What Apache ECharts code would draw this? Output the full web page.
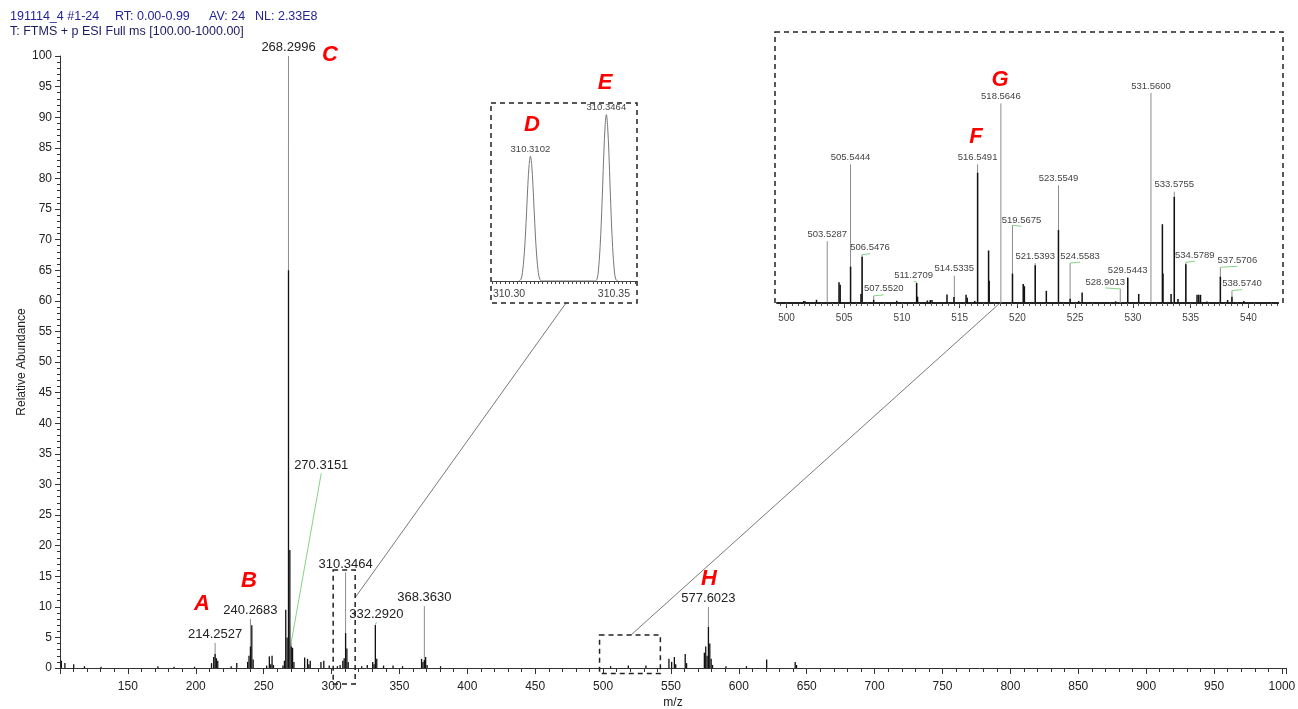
<!DOCTYPE html>
<html>
<head>
<meta charset="utf-8">
<title>191114_4 mass spectrum</title>
<script src="https://cdn.jsdelivr.net/npm/echarts@6/dist/echarts.min.js"></script>
<style>
  html, body { margin: 0; padding: 0; background: #fff; }
  #chart { width: 1298px; height: 709px; }
</style>
</head>
<body>
<div id="chart"></div>
<script>
// ---- Full-scan spectrum (profile clusters, black sticks) ----
const mainMz = [
  101.0, 103.6, 110.1, 118.0, 130.2, 172.1, 184.0, 199.1, 211.6, 213.2,
  214.25, 215.2, 216.2, 226.1, 230.2, 238.2, 239.2, 240.27, 241.27, 242.27,
  252.2, 254.2, 255.2, 256.2, 257.2, 264.2, 265.3, 266.27, 267.28, 268.30,
  269.30, 270.32, 271.3, 272.3, 280.2, 282.3, 283.3, 284.3, 292.2, 294.3,
  298.3, 304.3, 306.3, 308.3, 309.3, 310.35, 311.3, 312.3, 322.2, 326.3,
  330.3, 331.3, 332.29, 333.3, 338.3, 345.3, 352.3, 366.3, 367.3, 368.36,
  369.3, 370.4, 380.3, 505.54, 518.56, 531.56, 548.5, 550.5, 552.5, 553.5,
  560.5, 561.5, 574.6, 575.6, 576.6, 577.60, 578.6, 579.6, 580.6, 590.5,
  605.6, 620.5, 641.5, 642.5
];
const mainAbund = [
  1.2, 0.8, 0.6, 0.3, 0.2, 0.3, 0.2, 0.2, 0.8, 1.8,
  2.3, 1.6, 1.2, 0.3, 0.8, 1.0, 2.0, 3.5, 7.0, 1.4,
  0.4, 1.9, 0.6, 2.0, 0.5, 0.4, 1.2, 9.5, 5.0, 65,
  19.3, 3.5, 3.3, 1.0, 1.7, 1.5, 0.6, 1.2, 1.0, 1.2,
  0.4, 0.3, 0.5, 1.2, 1.6, 5.7, 3.2, 1.0, 0.3, 0.5,
  1.0, 0.6, 7.0, 1.5, 0.4, 0.4, 0.3, 1.5, 1.0, 1.3,
  1.8, 0.5, 0.3, 0.3, 0.4, 0.4, 1.5, 1.0, 1.8, 0.6,
  2.3, 0.8, 2.5, 3.5, 2.0, 6.7, 4.0, 1.5, 0.5, 0.3,
  0.3, 1.4, 1.0, 0.5
];

// ---- Labelled centroid peaks of the full scan ----
const labelMz    = [214.2527, 240.2683, 268.2996, 270.3151, 310.3464, 332.2920, 368.3630, 577.6023];
const labelAbund = [4.1, 8.0, 100, 4.2, 15.6, 7.0, 10.1, 10.0];

// ---- Zoom 310.29-310.36: two resolved profile peaks ----
const deMz = [
  310.3047, 310.3057, 310.3064, 310.3072, 310.3078, 310.3084, 310.3090, 310.3096, 310.3102,
  310.3108, 310.3114, 310.3120, 310.3126, 310.3132, 310.3140, 310.3147, 310.3157,
  310.3409, 310.3419, 310.3426, 310.3434, 310.3440, 310.3446, 310.3452, 310.3458, 310.3464,
  310.3470, 310.3476, 310.3482, 310.3488, 310.3494, 310.3502, 310.3509, 310.3519
];
const deAbund = [
  0, 1, 5, 15, 27, 42, 58, 70, 75,
  70, 58, 42, 27, 15, 5, 1, 0,
  0, 1, 6, 20, 36, 56, 77, 93, 100,
  93, 77, 56, 36, 20, 6, 1, 0
];
const deLabelMz    = [310.3102, 310.3464];
const deLabelAbund = [75, 100];
const deTickLabels = [310.30, 310.35];

// ---- Zoom 500-542: labelled centroids (grey) and profile sticks (black) ----
const zoomLabelMz = [
  503.5287, 505.5444, 506.5476, 507.5520, 511.2709, 514.5335, 516.5491, 518.5646, 519.5675, 521.5393,
  523.5549, 524.5583, 528.9013, 529.5443, 531.5600, 533.5755, 534.5789, 537.5706, 538.5740
];
const zoomLabelAbund = [
  29.4, 66, 23, 3.4, 9.9, 13, 66, 95, 37, 19,
  56, 19, 6.7, 12.3, 100, 53, 19.4, 17, 5.9
];
const zoomMz = [
  501.5, 501.6, 502.6, 504.55, 504.65, 505.55, 506.45, 506.55, 507.55, 509.55,
  511.27, 511.35, 512.2, 512.45, 512.6, 513.9, 514.5, 515.55, 515.65, 516.3,
  516.55, 517.5, 517.55, 519.57, 520.5, 520.6, 521.54, 522.5, 523.55, 524.56,
  525.3, 525.6, 526.9, 527.6, 528.5, 529.55, 530.5, 531.3, 532.55, 532.6,
  533.3, 533.58, 533.9, 534.58, 535.55, 535.7, 535.85, 536.4, 537.57, 538.2,
  538.57, 539.6
];
const zoomAbund = [
  1.0, 0.8, 1.5, 9.9, 8.7, 17.3, 4.3, 22, 1.5, 1.1,
  9.5, 3, 1.2, 1.4, 1.4, 4.1, 2.9, 3.9, 2.5, 1.0,
  62, 25, 10.6, 14, 9, 8, 18, 5.8, 34.7, 2,
  1, 5, 0.5, 0.5, 0.8, 12, 4.3, 0.5, 37.5, 14,
  4.3, 50.5, 1.9, 18.5, 3.9, 3.9, 3.9, 0.7, 12.5, 1.4,
  3, 1.0
];
const zoomTickLabels = [500, 505, 510, 515, 520, 525, 530, 535, 540];

// ---- Scan header fields and annotation letters ----
const headerFields = ['191114_4 #1-24', 'RT: 0.00-0.99', 'AV: 24', 'NL: 2.33E8'];
const headerLine2 = 'T: FTMS + p ESI Full ms [100.00-1000.00]';
const letters = ['A', 'B', 'C', 'D', 'E', 'F', 'G', 'H'];

// ---------------------------------------------------------------
const FONT = '"Liberation Sans", Arial, Helvetica, sans-serif';
const AXIS_COLOR = '#333';
const DE_MIN = 310.2919, DE_MAX = 310.3610;
const ZM_MIN = 499.18, ZM_MAX = 542.56;

// label placement (pixel offsets of the text's bottom-centre from the peak apex)
const mainLabelPlace = {
  '270.3151': { dx: 30, dy: -170, leader: true },
  '332.2920': { dx: 1, dy: -4, leader: true }
};
const zoomLabelPlace = {
  '506.5476': { dx: 8, leader: true },
  '507.5520': { dx: 10, leader: true },
  '511.2709': { dx: -3, leader: true },
  '519.5675': { dx: 9, dy: 0, leader: true },
  '524.5583': { dx: 10, leader: true },
  '528.9013': { dx: -15, leader: true },
  '534.5789': { dx: 9, leader: true },
  '537.5706': { dx: 17, leader: true },
  '538.5740': { dx: 10, leader: true }
};

function placements(mz, table, dyDefault) {
  return mz.map(m => Object.assign({ dx: 0, dy: dyDefault, leader: false }, table[m.toFixed(4)] || {}));
}

function stickSeries(xi, yi, mz, ab, color, width, z) {
  return {
    type: 'custom', xAxisIndex: xi, yAxisIndex: yi, clip: true, z: z,
    silent: true,
    data: mz.map((m, i) => [m, ab[i]]),
    renderItem(params, api) {
      const b = api.coord([api.value(0), 0]);
      const t = api.coord([api.value(0), api.value(1)]);
      return { type: 'line', shape: { x1: b[0], y1: b[1], x2: t[0], y2: t[1] },
               style: { stroke: color, lineWidth: width } };
    }
  };
}

function labelSeries(xi, yi, mz, ab, place, opt) {
  return {
    type: 'custom', xAxisIndex: xi, yAxisIndex: yi, clip: false, z: opt.z || 4,
    silent: true,
    data: mz.map((m, i) => [m, ab[i]]),
    renderItem(params, api) {
      const m = api.value(0), a = api.value(1);
      const top = api.coord([m, a]);
      const base = api.coord([m, 0]);
      const L = place[params.dataIndex];
      const tx = top[0] + L.dx, ty = top[1] + L.dy;
      const kids = [];
      if (opt.stick) {
        kids.push({ type: 'line', shape: { x1: base[0], y1: base[1], x2: top[0], y2: top[1] },
                    style: { stroke: opt.stickColor, lineWidth: 1 } });
      }
      if (L.leader) {
        kids.push({ type: 'line', shape: { x1: top[0], y1: top[1], x2: tx, y2: ty + 1 },
                    style: { stroke: '#86d486', lineWidth: 1 } });
      }
      kids.push({ type: 'text', x: tx, y: ty,
                  style: { text: m.toFixed(4), font: opt.font, fill: opt.color,
                           align: 'center', verticalAlign: 'bottom' } });
      return { type: 'group', children: kids };
    }
  };
}

const deTicks = [];
for (let v = 310.292; v <= 310.3605; v += 0.002) deTicks.push(+v.toFixed(3));
const zmMinor = [];
for (let v = 499.5; v <= 542.5; v += 0.5) zmMinor.push(v);

const chart = echarts.init(document.getElementById('chart'), null, { renderer: 'canvas' });

const option = {
  animation: false,
  backgroundColor: '#fff',
  textStyle: { fontFamily: FONT },
  grid: [
    { left: 60, right: 12, top: 56, bottom: 41, outerBoundsMode: 'none' },
    { left: 492, width: 145, top: 103, height: 178, outerBoundsMode: 'none' },
    { left: 777, width: 501, top: 32, height: 271, outerBoundsMode: 'none' }
  ],
  xAxis: [
    {
      gridIndex: 0, type: 'value', min: 100, max: 1003, interval: 50, position: 'bottom',
      name: 'm/z', nameLocation: 'middle', nameGap: 29, nameMoveOverlap: false,
      nameTextStyle: { fontFamily: FONT, fontSize: 12, color: '#222' },
      axisLine: { show: true, lineStyle: { color: AXIS_COLOR, width: 1 } },
      axisTick: { show: true, length: 6, lineStyle: { color: AXIS_COLOR } },
      minorTick: { show: true, splitNumber: 5, length: 4, lineStyle: { color: AXIS_COLOR } },
      axisLabel: { showMinLabel: false, showMaxLabel: false, formatter: v => String(v),
                   fontFamily: FONT, fontSize: 12, color: '#222', margin: 13 },
      splitLine: { show: false }, minorSplitLine: { show: false }
    },
    {
      gridIndex: 1, type: 'value', min: DE_MIN, max: DE_MAX, position: 'bottom',
      axisLine: { show: true, lineStyle: { color: '#444', width: 1 } },
      axisTick: { show: true, customValues: deTicks, length: 3, lineStyle: { color: '#444' } },
      axisLabel: { customValues: deTickLabels, formatter: v => v.toFixed(2),
                   fontFamily: FONT, fontSize: 10.5, color: '#444', margin: 8 },
      splitLine: { show: false }
    },
    {
      gridIndex: 2, type: 'value', min: ZM_MIN, max: ZM_MAX, position: 'bottom',
      axisLine: { show: true, lineStyle: { color: '#222', width: 2 } },
      axisTick: { show: true, customValues: zoomTickLabels, length: 5, lineStyle: { color: '#333' } },
      axisLabel: { customValues: zoomTickLabels, formatter: v => String(v),
                   fontFamily: FONT, fontSize: 10, color: '#444', margin: 10 },
      splitLine: { show: false }
    },
    {
      gridIndex: 2, type: 'value', min: ZM_MIN, max: ZM_MAX, position: 'bottom', offset: 0,
      axisLine: { show: false },
      axisTick: { show: true, customValues: zmMinor, length: 3, lineStyle: { color: '#555' } },
      axisLabel: { show: false },
      splitLine: { show: false }
    }
  ],
  yAxis: [
    {
      gridIndex: 0, type: 'value', min: 0, max: 100, interval: 5,
      name: 'Relative Abundance', nameLocation: 'middle', nameGap: 32, nameRotate: 90,
      nameMoveOverlap: false,
      nameTextStyle: { fontFamily: FONT, fontSize: 12, color: '#222' },
      axisLine: { show: true, lineStyle: { color: AXIS_COLOR, width: 1 } },
      axisTick: { show: true, length: 5, lineStyle: { color: AXIS_COLOR } },
      minorTick: { show: true, splitNumber: 5, length: 3, lineStyle: { color: AXIS_COLOR } },
      axisLabel: { fontFamily: FONT, fontSize: 12, color: '#222', margin: 8 },
      splitLine: { show: false }, minorSplitLine: { show: false }
    },
    { gridIndex: 1, type: 'value', min: 0, max: 107, show: false, splitLine: { show: false } },
    { gridIndex: 2, type: 'value', min: 0, max: 129, show: false, splitLine: { show: false } }
  ],
  series: [
    // full scan
    labelSeries(0, 0, labelMz, labelAbund, placements(labelMz, mainLabelPlace, -2),
                { stick: true, stickColor: '#8c8c8c', font: '13px ' + FONT, color: '#222', z: 3 }),
    stickSeries(0, 0, mainMz, mainAbund, '#111', 1.3, 5),
    // zoom 310.30-310.35
    {
      type: 'line', xAxisIndex: 1, yAxisIndex: 1, silent: true,
      data: deMz.map((m, i) => [m, deAbund[i]]),
      showSymbol: false, smooth: 0.35,
      lineStyle: { color: '#777', width: 1 }, z: 3
    },
    labelSeries(1, 1, deLabelMz, deLabelAbund, placements(deLabelMz, {}, -2),
                { stick: false, font: '9.5px ' + FONT, color: '#444', z: 4 }),
    // zoom 500-542
    labelSeries(2, 2, zoomLabelMz, zoomLabelAbund, placements(zoomLabelMz, zoomLabelPlace, -2),
                { stick: true, stickColor: '#8c8c8c', font: '9.5px ' + FONT, color: '#444', z: 3 }),
    stickSeries(2, 2, zoomMz, zoomAbund, '#111', 1.5, 5)
  ]
};

chart.setOption(option);

// ---- boxes, connectors, titles and peak letters ----
const px = (x, y) => chart.convertToPixel({ gridIndex: 0 }, [x, y]);
const box1a = px(301.2, 16.0), box1b = px(317.4, -2.6);
const box2a = px(497.4, 5.4), box2b = px(542.2, -0.9);
const conn1 = px(317.4, 11.5);
const conn2 = px(520.6, 5.4);

const dashed = { stroke: '#222', lineWidth: 1.5, lineDash: [5, 4], fill: null };
function rect(x1, y1, x2, y2) {
  return { type: 'rect', shape: { x: x1, y: y1, width: x2 - x1, height: y2 - y1 },
           style: Object.assign({}, dashed), z: 10, silent: true };
}
function line(x1, y1, x2, y2) {
  return { type: 'line', shape: { x1, y1, x2, y2 },
           style: { stroke: '#7a7a7a', lineWidth: 1 }, z: 9, silent: true };
}
function txt(x, y, s, font, fill, align) {
  return { type: 'text', x, y, z: 12, silent: true,
           style: { text: s, font, fill, align: align || 'left', textAlign: align || 'left',
                    verticalAlign: 'middle', textVerticalAlign: 'middle' } };
}

const headerX = [10, 115, 209, 255];
const HEAD_FONT = '12.5px ' + FONT;
const letterPos = [[202, 604], [249, 581], [330, 55], [532, 125], [605, 83], [976, 137], [1000, 80], [709, 579]];
const RED_FONT = 'italic bold 22px ' + FONT;

chart.setOption({
  graphic: [
    rect(box1a[0], box1a[1], box1b[0], box1b[1]),
    rect(box2a[0], box2a[1], box2b[0], box2b[1]),
    rect(491, 103, 637, 303),
    rect(775, 32, 1283, 303),
    line(conn1[0], conn1[1], 566, 303),
    line(conn2[0], conn2[1], 1000, 303),
    txt(10, 32, headerLine2, HEAD_FONT, '#1c1c62')
  ]
  .concat(headerFields.map((s, i) => txt(headerX[i], 17, s, HEAD_FONT, '#24249a')))
  .concat(letters.map((l, i) => txt(letterPos[i][0], letterPos[i][1], l, RED_FONT, '#ff0000', 'center')))
});
</script>
</body>
</html>
